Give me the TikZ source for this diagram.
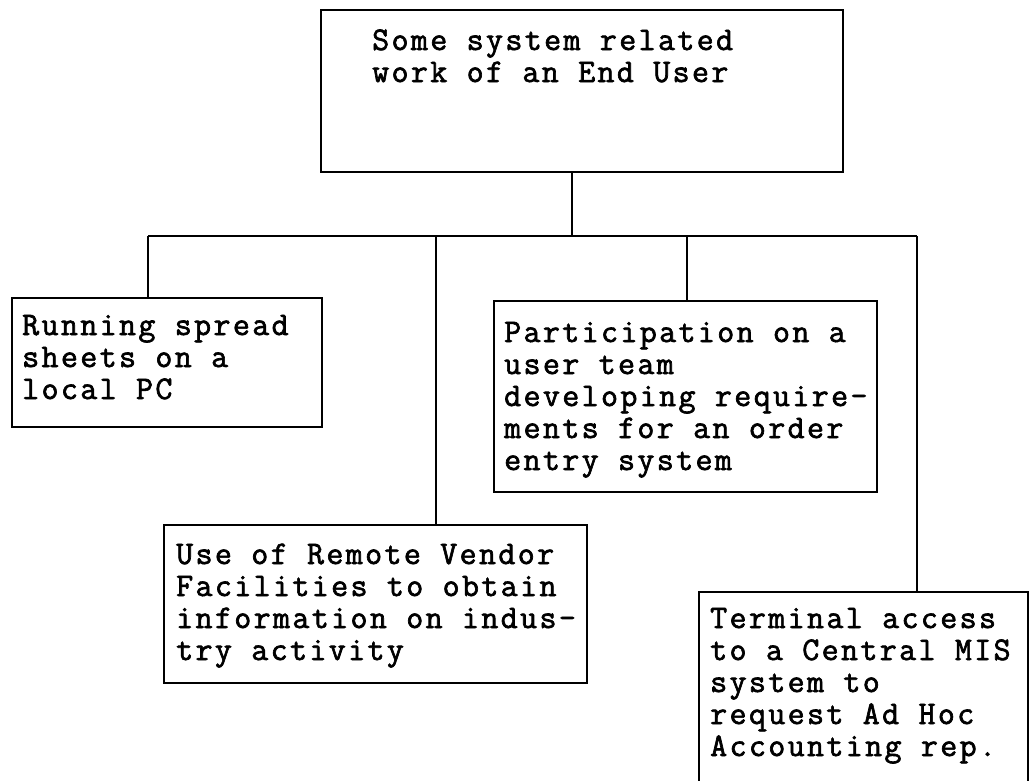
\documentclass[tikz,border=0pt]{standalone}
\usepackage{fontspec}
\newfontfamily\reffont{Latin Modern Mono}[FakeBold=2,LetterSpace=7.2]
\begin{document}
\begin{tikzpicture}[x=1pt,y=-1pt,
  box/.style={draw=black,line width=2.2pt,rectangle,inner sep=0pt},
  txt/.style={anchor=base west,inner sep=0pt,font=\reffont\fontsize{33}{32}\selectfont},
  wire/.style={draw=black,line width=2.2pt}]
\clip (0,0) rectangle (1034,780);
\fill[white] (0,0) rectangle (1034,780);
% boxes
\node[box,minimum width=522pt,minimum height=162pt] (top) at (582,91) {};
\node[box,minimum width=310pt,minimum height=129pt] (b1) at (167,362.5) {};
\node[box,minimum width=383pt,minimum height=191pt] (b2) at (685.5,396.5) {};
\node[box,minimum width=423pt,minimum height=158pt] (b3) at (375.5,604) {};
\node[box,minimum width=329pt,minimum height=210pt] (b4) at (863.5,697) {};
% texts
\node[txt] (t0) at (372,50) {\begin{tabular}[t]{@{}l@{}}Some system related\\work of an End User\end{tabular}};
\node[txt] (t1) at (22,335) {\begin{tabular}[t]{@{}l@{}}Running spread\\sheets on a\\local PC\end{tabular}};
\node[txt] (t2) at (504,342) {\begin{tabular}[t]{@{}l@{}}Participation on a\\user team\\developing require-\\ments for an order\\entry system\end{tabular}};
\node[txt] (t3) at (176,564) {\begin{tabular}[t]{@{}l@{}}Use of Remote Vendor\\Facilities to obtain\\information on indus-\\try activity\end{tabular}};
\node[txt] (t4) at (710,628) {\begin{tabular}[t]{@{}l@{}}Terminal access\\to a Central MIS\\system to\\request Ad Hoc\\Accounting rep.\end{tabular}};
% connectors
\coordinate (bus) at (572,236);
\coordinate (j1) at (148,236);
\coordinate (j2) at (436,236);
\coordinate (j3) at (687,236);
\coordinate (j4) at (917,236);
\draw[wire] (top.south -| bus) -- (bus);
\draw[wire] (j1) -- (j4);
\draw[wire] (j1) -- (j1 |- b1.north);
\draw[wire] (j2) -- (j2 |- b3.north);
\draw[wire] (j3) -- (j3 |- b2.north);
\draw[wire] (j4) -- (j4 |- b4.north);
\end{tikzpicture}
\end{document}
